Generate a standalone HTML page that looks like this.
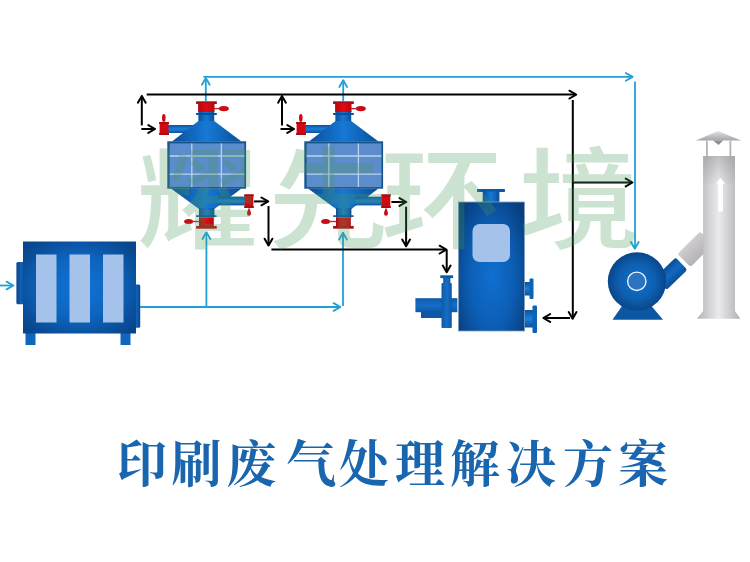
<!DOCTYPE html>
<html lang="zh-CN">
<head>
<meta charset="utf-8">
<title>印刷废气处理解决方案</title>
<style>
html,body{margin:0;padding:0;background:#fff;}
body{width:750px;height:562px;overflow:hidden;position:relative;font-family:"Liberation Sans","Noto Sans CJK SC",sans-serif;}
svg{position:absolute;left:0;top:0;display:block;}
.wm{font-family:"Liberation Sans","Noto Sans CJK SC",sans-serif;font-weight:500;font-size:110px;fill:#4a9a5a;text-anchor:middle;}
.title{font-family:"Liberation Serif","Noto Serif CJK SC",serif;font-weight:700;font-size:50px;fill:#1a66ae;text-anchor:middle;}
.cy{stroke:#22a0d6;stroke-width:1.8;fill:none;}
.bk{stroke:#000;stroke-width:2;fill:none;}
</style>
</head>
<body>
<svg width="750" height="562" viewBox="0 0 750 562">
<defs>
  <radialGradient id="gBox" cx="50%" cy="50%" r="65%">
    <stop offset="0" stop-color="#0f74d6"/><stop offset="0.5" stop-color="#0d65be"/><stop offset="0.8" stop-color="#0a519e"/><stop offset="1" stop-color="#09458a"/>
  </radialGradient>
  <linearGradient id="gH" x1="0" x2="1" y1="0" y2="0">
    <stop offset="0" stop-color="#0b4f98"/><stop offset="0.5" stop-color="#1679d6"/><stop offset="1" stop-color="#0b4f98"/>
  </linearGradient>
  <linearGradient id="gV" x1="0" x2="0" y1="0" y2="1">
    <stop offset="0" stop-color="#0c529c"/><stop offset="0.5" stop-color="#1a7fdc"/><stop offset="1" stop-color="#0c529c"/>
  </linearGradient>
  <radialGradient id="gTank" cx="50%" cy="58%" r="62%" gradientTransform="translate(0.5 0.58) scale(1 1.15) translate(-0.5 -0.58)">
    <stop offset="0" stop-color="#106fd0"/><stop offset="0.55" stop-color="#0c5eb4"/><stop offset="1" stop-color="#083f80"/>
  </radialGradient>
  <radialGradient id="gFan" cx="50%" cy="50%" r="50%">
    <stop offset="0" stop-color="#1170cc"/><stop offset="0.6" stop-color="#0d60b2"/><stop offset="1" stop-color="#09468a"/>
  </radialGradient>
  <linearGradient id="gGrey" x1="0" x2="1" y1="0" y2="0">
    <stop offset="0" stop-color="#b4b2b6"/><stop offset="0.5" stop-color="#ebeaec"/><stop offset="1" stop-color="#b0aeb2"/>
  </linearGradient>
  <linearGradient id="gCap" x1="0" x2="0" y1="0" y2="1">
    <stop offset="0" stop-color="#e2e2e4"/><stop offset="1" stop-color="#a5a3a8"/>
  </linearGradient>
  <linearGradient id="gConn" x1="0" x2="0" y1="0" y2="1">
    <stop offset="0" stop-color="#cfcdd2"/><stop offset="1" stop-color="#b4b2b7"/>
  </linearGradient>
  <linearGradient id="gGreyTop" x1="0" x2="0" y1="0" y2="1">
    <stop offset="0" stop-color="#8a888d" stop-opacity="0.45"/><stop offset="1" stop-color="#8a888d" stop-opacity="0"/>
  </linearGradient>
  <linearGradient id="gOut" x1="0" x2="0" y1="0" y2="1">
    <stop offset="0" stop-color="#0b4f98"/><stop offset="0.5" stop-color="#1168c0"/><stop offset="1" stop-color="#0b4f98"/>
  </linearGradient>
  <linearGradient id="gPH" x1="0" x2="1" y1="0" y2="0">
    <stop offset="0" stop-color="#0e59a8"/><stop offset="0.5" stop-color="#166dc6"/><stop offset="1" stop-color="#0e59a8"/>
  </linearGradient>
  <linearGradient id="gPV" x1="0" x2="0" y1="0" y2="1">
    <stop offset="0" stop-color="#0e59a8"/><stop offset="0.5" stop-color="#166dc6"/><stop offset="1" stop-color="#0e59a8"/>
  </linearGradient>
  <linearGradient id="gFl" x1="0" x2="1" y1="0" y2="0">
    <stop offset="0" stop-color="#0a4388"/><stop offset="0.6" stop-color="#0f62b8"/><stop offset="1" stop-color="#0b4c94"/>
  </linearGradient>
  <linearGradient id="gFr" x1="0" x2="1" y1="0" y2="0">
    <stop offset="0" stop-color="#0b4c94"/><stop offset="0.5" stop-color="#0f62b8"/><stop offset="1" stop-color="#0a4388"/>
  </linearGradient>
  <linearGradient id="gRedH" x1="0" x2="1" y1="0" y2="0">
    <stop offset="0" stop-color="#b8060e"/><stop offset="0.5" stop-color="#e00a14"/><stop offset="1" stop-color="#b8060e"/>
  </linearGradient>
  <g id="unit">
    <!-- top neck + flange -->
    <rect x="198.400" y="111" width="15.800" height="11" fill="url(#gH)"/>
    <rect x="196.100" y="113" width="20.700" height="2" fill="#0b4f98"/>
    <rect x="196.100" y="101.300" width="20.700" height="2.700" fill="#a80c14"/>
    <rect x="198.100" y="103" width="16.400" height="9" fill="url(#gRedH)"/>
    <ellipse cx="223.800" cy="108.600" rx="5" ry="2.700" fill="#cc0a12"/>
    <rect x="214" y="107.900" width="6" height="1.400" fill="#b03030"/>
    <!-- left inlet -->
    <rect x="167" y="125" width="28" height="8" fill="url(#gV)"/>
    <rect x="159.600" y="122.500" width="8.900" height="12.300" fill="#d0080f"/>
    <rect x="159.100" y="122" width="9.900" height="2" fill="#a90c14"/>
    <rect x="159.100" y="133" width="9.900" height="2" fill="#a90c14"/>
    <ellipse cx="163.800" cy="118" rx="1.800" ry="4" fill="#cc0a12"/>
    <!-- top cone -->
    <polygon points="198.400,121 214.200,121 241.500,141.500 172,141.500" fill="url(#gH)"/>
    <!-- bottom cone -->
    <polygon points="171,188.500 241.500,188.500 214.400,209 199,209" fill="url(#gH)"/>
    <!-- right outlet -->
    <rect x="218" y="196.700" width="27" height="8.700" fill="url(#gV)"/>
    <rect x="244.700" y="194.800" width="8.600" height="12.700" fill="#d0080f"/>
    <rect x="244.200" y="194.300" width="9.600" height="2" fill="#a90c14"/>
    <rect x="244.200" y="206" width="9.600" height="2" fill="#a90c14"/>
    <path d="M249 207.500C250.200 210.500 251 212 251 213.600A2 2.200 0 0 1 247 213.600C247 212 247.800 210.500 249 207.500Z" fill="#cc0a12"/>
    <!-- bottom neck + flange -->
    <rect x="199" y="208" width="15.400" height="9.500" fill="url(#gH)"/>
    <rect x="196.100" y="215.300" width="20.500" height="1.600" fill="#0b4f98"/>
    <rect x="199" y="217.400" width="14.800" height="9" fill="url(#gRedH)"/>
    <rect x="196.100" y="226" width="20.600" height="2.700" fill="#b20d16"/>
    <ellipse cx="188.600" cy="221.500" rx="4.500" ry="2.500" fill="#cc0a12"/>
    <rect x="192" y="220.800" width="7" height="1.400" fill="#b03030"/>
    <!-- body -->
    <rect x="167.300" y="141.300" width="78.800" height="47.400" fill="#17558c"/>
    <rect x="169.600" y="143.400" width="74.800" height="43.700" fill="#5b8ccb"/>
    <path d="M191.800 143.400V187.100M221.400 143.400V187.100M169.600 156H244.400M169.600 174.100H244.400" stroke="#bcd2ec" stroke-width="1.300" fill="none"/>
  </g>
  <g id="ah"><path d="M-6.800 -3.900L0 0L-6.800 3.900" fill="none" stroke-linecap="round" stroke-linejoin="round"/></g>
</defs>

<rect width="750" height="562" fill="#ffffff"/>

<!-- cyan flow lines -->
<g class="cy">
  <path d="M0 285.500H13"/>
  <path d="M140 307H340"/>
  <path d="M206.400 307V232.500"/>
  <path d="M343 306V232.500"/>
  <path d="M203.400 76.900H632.500"/>
  <path d="M205.800 101V78"/>
  <path d="M343.200 101V80"/>
  <path d="M635 81.400V248.500"/>
  <use href="#ah" transform="translate(13.4 285.5) rotate(0)"/>
  <use href="#ah" transform="translate(340.4 307.0) rotate(0)"/>
  <use href="#ah" transform="translate(206.4 232.2) rotate(-90)"/>
  <use href="#ah" transform="translate(343.0 232.8) rotate(-90)"/>
  <use href="#ah" transform="translate(205.8 78.0) rotate(-90)"/>
  <use href="#ah" transform="translate(343.2 80.2) rotate(-90)"/>
  <use href="#ah" transform="translate(632.6 76.9) rotate(0)"/>
  <use href="#ah" transform="translate(634.8 248.8) rotate(90)"/>
</g>

<!-- black flow lines -->
<g class="bk">
  <path d="M146.700 94.600H576"/>
  <path d="M141.800 96V125.400"/>
  <path d="M141.300 129H155"/>
  <path d="M282 96V125.400"/>
  <path d="M280.500 129H294"/>
  <path d="M572.800 100V318.500"/>
  <path d="M572.800 182.500H632"/>
  <path d="M543.500 318H570"/>
  <path d="M254 201.400H268"/>
  <path d="M268.500 206V245.500"/>
  <path d="M391.400 202H406"/>
  <path d="M406.100 206.700V246"/>
  <path d="M271.400 249.600H446"/>
  <path d="M446.700 249.600V272"/>
  <use href="#ah" transform="translate(141.8 95.9) rotate(-90)"/>
  <use href="#ah" transform="translate(282.0 95.9) rotate(-90)"/>
  <use href="#ah" transform="translate(155.1 129.0) rotate(0)"/>
  <use href="#ah" transform="translate(294.1 129.0) rotate(0)"/>
  <use href="#ah" transform="translate(576.2 94.6) rotate(0)"/>
  <use href="#ah" transform="translate(632.5 182.5) rotate(0)"/>
  <use href="#ah" transform="translate(572.6 318.8) rotate(90)"/>
  <use href="#ah" transform="translate(543.3 318.0) rotate(180)"/>
  <use href="#ah" transform="translate(268.2 201.4) rotate(0)"/>
  <use href="#ah" transform="translate(268.5 245.5) rotate(90)"/>
  <use href="#ah" transform="translate(406.3 202.0) rotate(0)"/>
  <use href="#ah" transform="translate(406.1 246.3) rotate(90)"/>
  <use href="#ah" transform="translate(446.4 249.6) rotate(0)"/>
  <use href="#ah" transform="translate(446.7 272.3) rotate(90)"/>
</g>

<!-- filter box -->
<g>
  <rect x="16.400" y="262" width="8" height="42.300" rx="1.500" fill="url(#gFl)"/>
  <rect x="133" y="284.400" width="7.200" height="43.300" rx="1.500" fill="url(#gFr)"/>
  <rect x="25.500" y="332" width="10" height="13" fill="#0f66bd"/>
  <rect x="120.500" y="332" width="10" height="13" fill="#0f66bd"/>
  <rect x="23" y="241.500" width="113" height="92" fill="url(#gBox)"/>
  <rect x="36" y="254.500" width="20.500" height="68" fill="#a5c3ea"/>
  <rect x="69.500" y="254.500" width="20.500" height="68" fill="#a5c3ea"/>
  <rect x="103" y="254.500" width="20.500" height="68" fill="#a5c3ea"/>
</g>

<!-- adsorption units -->
<use href="#unit"/>
<use href="#unit" transform="translate(137 0)"/>

<!-- pump -->
<g>
  <rect x="415.400" y="298.200" width="42" height="14" fill="url(#gPV)"/>
  <rect x="421" y="311.500" width="22" height="6.500" fill="#0d58a6"/>
  <rect x="443.200" y="277" width="7.200" height="9" fill="url(#gPH)"/>
  <rect x="440.300" y="275.300" width="12.800" height="2.800" fill="#0d5aaa"/>
  <rect x="441.500" y="283" width="10.300" height="45" rx="1" fill="url(#gPH)"/>
</g>

<!-- tank -->
<g>
  <rect x="477" y="189" width="28" height="3" rx="0.800" fill="#0c58a8"/>
  <rect x="482.700" y="191.500" width="16.700" height="11.500" fill="url(#gH)"/>
  <rect x="523" y="282" width="8" height="13.500" fill="url(#gV)"/>
  <rect x="529.500" y="278.500" width="4" height="20.500" rx="1" fill="#0e62b6"/>
  <rect x="523" y="310" width="10.500" height="17.500" fill="url(#gV)"/>
  <rect x="532.500" y="305.500" width="4.500" height="27.500" rx="1" fill="#0e62b6"/>
  <rect x="458.500" y="202" width="66" height="129" fill="url(#gTank)" stroke="#7f9dbd" stroke-width="0.8"/>
  <rect x="472.500" y="224" width="37.500" height="38" rx="7" fill="#a5c3ea"/>
</g>

<!-- chimney -->
<g>
  <polygon points="695.900,140.500 718,131 741.100,140.500" fill="url(#gCap)"/>
  <polygon points="713,140.500 723.200,140.500 718.500,145" fill="#8f8d92"/>
  <rect x="706" y="140.500" width="1.800" height="16" fill="#b4b2b6"/>
  <rect x="729.500" y="140.500" width="1.800" height="16" fill="#b4b2b6"/>
  <g transform="translate(684 260.500) rotate(-45)">
    <rect x="0" y="-9.200" width="32" height="18.400" rx="2.500" fill="url(#gConn)"/>
  </g>
  <polygon points="703.100,156 735,156 735,311 740.400,318.800 697,318.800 703.100,311" fill="url(#gGrey)"/>
  <rect x="703.100" y="156" width="31.900" height="30" fill="url(#gGreyTop)"/>
  <polygon points="720.400,177.800 725.200,183.800 723,183.800 723,211.600 718.100,211.600 718.100,183.800 716,183.800" fill="#ffffff"/>
</g>

<!-- fan -->
<g>
  <polygon points="622,306 651.500,306 663,319.700 612.500,319.700" fill="#0c57a4"/>
  <g transform="translate(680.800 264.300) rotate(-44)">
    <rect x="-28" y="-8.500" width="29" height="17" rx="2.500" fill="url(#gOut)"/>
  </g>
  <circle cx="637" cy="281.400" r="29.200" fill="url(#gFan)"/>
  <circle cx="636.800" cy="281.300" r="9.200" fill="#2b74c2" stroke="#eef4fb" stroke-width="1.400"/>
</g>

<!-- watermark -->
<text class="wm" transform="scale(1.1 1)" x="179.5 298.6 401.4 526.4" y="240" opacity="0.27">耀先环境</text>

<!-- title -->
<text class="title" x="142 196.500 251.500 311 364 420 475 531 588 643" y="482">印刷废气处理解决方案</text>
</svg>
</body>
</html>
